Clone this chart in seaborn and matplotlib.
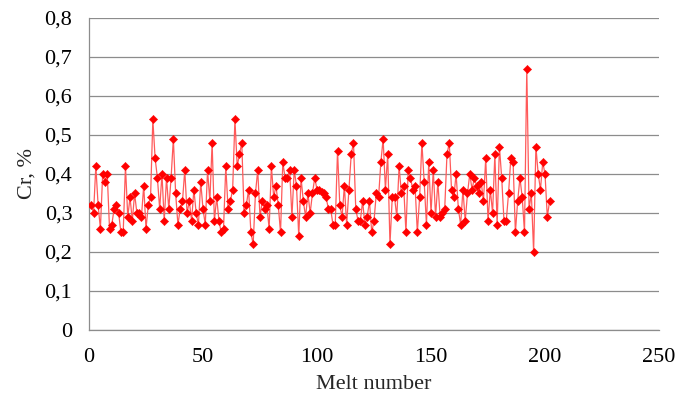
import numpy as np
import pandas as pd
import seaborn as sns
import matplotlib
matplotlib.use("Agg")
import matplotlib.pyplot as plt
from matplotlib.ticker import FuncFormatter, MultipleLocator

# Cr content per melt
cr_values = [
    0.32, 0.30, 0.42, 0.32, 0.26, 0.40, 0.38, 0.40, 0.26, 0.27,
    0.31, 0.32, 0.30, 0.25, 0.25, 0.42, 0.29, 0.34, 0.28, 0.35,
    0.30, 0.30, 0.29, 0.37, 0.26, 0.32, 0.34, 0.54, 0.44, 0.39,
    0.31, 0.40, 0.28, 0.39, 0.31, 0.39, 0.49, 0.35, 0.27,
    0.31, 0.33, 0.41, 0.30, 0.33, 0.28, 0.36, 0.30, 0.27, 0.38,
    0.31, 0.27, 0.41, 0.33, 0.48, 0.28, 0.34, 0.28, 0.25, 0.26,
    0.42, 0.31, 0.33, 0.36, 0.54, 0.42, 0.45, 0.48, 0.30, 0.32,
    0.36, 0.25, 0.22, 0.35, 0.41, 0.29, 0.33, 0.31, 0.32, 0.26,
    0.42, 0.34, 0.37, 0.32, 0.25, 0.43, 0.39, 0.39, 0.41, 0.29,
    0.41, 0.37, 0.24, 0.39, 0.33, 0.29, 0.35, 0.30, 0.35, 0.39,
    0.36, 0.36, 0.355, 0.35, 0.34, 0.31, 0.31, 0.27, 0.27, 0.46,
    0.32, 0.29, 0.37, 0.27, 0.36, 0.45, 0.48, 0.31, 0.28, 0.28,
    0.33, 0.27, 0.29, 0.33, 0.25, 0.28, 0.35, 0.34, 0.43, 0.49,
    0.36, 0.45, 0.22, 0.34, 0.34, 0.29, 0.42, 0.35, 0.37, 0.25,
    0.41, 0.39, 0.36, 0.37, 0.25, 0.34, 0.48, 0.38, 0.27, 0.43,
    0.30, 0.41, 0.29, 0.38, 0.29, 0.30, 0.31, 0.45, 0.48, 0.36,
    0.34, 0.40, 0.31, 0.27, 0.36, 0.28, 0.35, 0.40, 0.36, 0.39,
    0.37, 0.35, 0.38, 0.33, 0.44, 0.28, 0.36, 0.30, 0.45, 0.27,
    0.47, 0.39, 0.28, 0.28, 0.35, 0.44, 0.43, 0.25, 0.33, 0.39,
    0.34, 0.25, 0.67, 0.31, 0.35, 0.20, 0.47, 0.40, 0.36, 0.43,
    0.40, 0.29, 0.33,
]
melt_numbers = list(range(1, len(cr_values) + 1))

x_label = "Melt number"
y_label = "Cr, %"

sns.set_theme(style="white")
plt.rcParams["font.family"] = ["Liberation Serif", "DejaVu Serif"]

df = pd.DataFrame({"melt": melt_numbers, "cr": cr_values})

fig = plt.figure(figsize=(6.83, 4.05), dpi=100)
ax = fig.add_axes([0.1303, 0.185, 0.8346, 0.771])

# thin light line first, then solid diamond markers on top
sns.lineplot(data=df, x="melt", y="cr", ax=ax, color="#ff5a5a", linewidth=0.9)
sns.scatterplot(data=df, x="melt", y="cr", ax=ax, color="#ff0000",
                marker="D", s=18, edgecolor="#ff0000", linewidth=0.3, zorder=3)

ax.set_xlim(0, 250)
ax.set_ylim(0, 0.8)
ax.xaxis.set_major_locator(MultipleLocator(50))
ax.yaxis.set_major_locator(MultipleLocator(0.1))
ax.yaxis.set_major_formatter(FuncFormatter(
    lambda v, _: "0" if abs(v) < 1e-9 else f"{v:.1f}".replace(".", ",")))

ax.grid(axis="y", color="#8c8c8c", linewidth=0.9)
ax.grid(axis="x", visible=False)
ax.set_axisbelow(True)
for side in ["top", "right"]:
    ax.spines[side].set_visible(False)
for side in ["left", "bottom"]:
    ax.spines[side].set_color("#8c8c8c")
    ax.spines[side].set_linewidth(0.9)

ax.tick_params(axis="y", length=0, labelsize=16, colors="black", pad=12)
ax.tick_params(axis="x", length=0, labelsize=16, colors="black", pad=13)
ax.set_xlabel(x_label, fontsize=16, labelpad=6)
ax.set_ylabel(y_label, fontsize=16, labelpad=6)

fig.savefig("out.png", dpi=100)
